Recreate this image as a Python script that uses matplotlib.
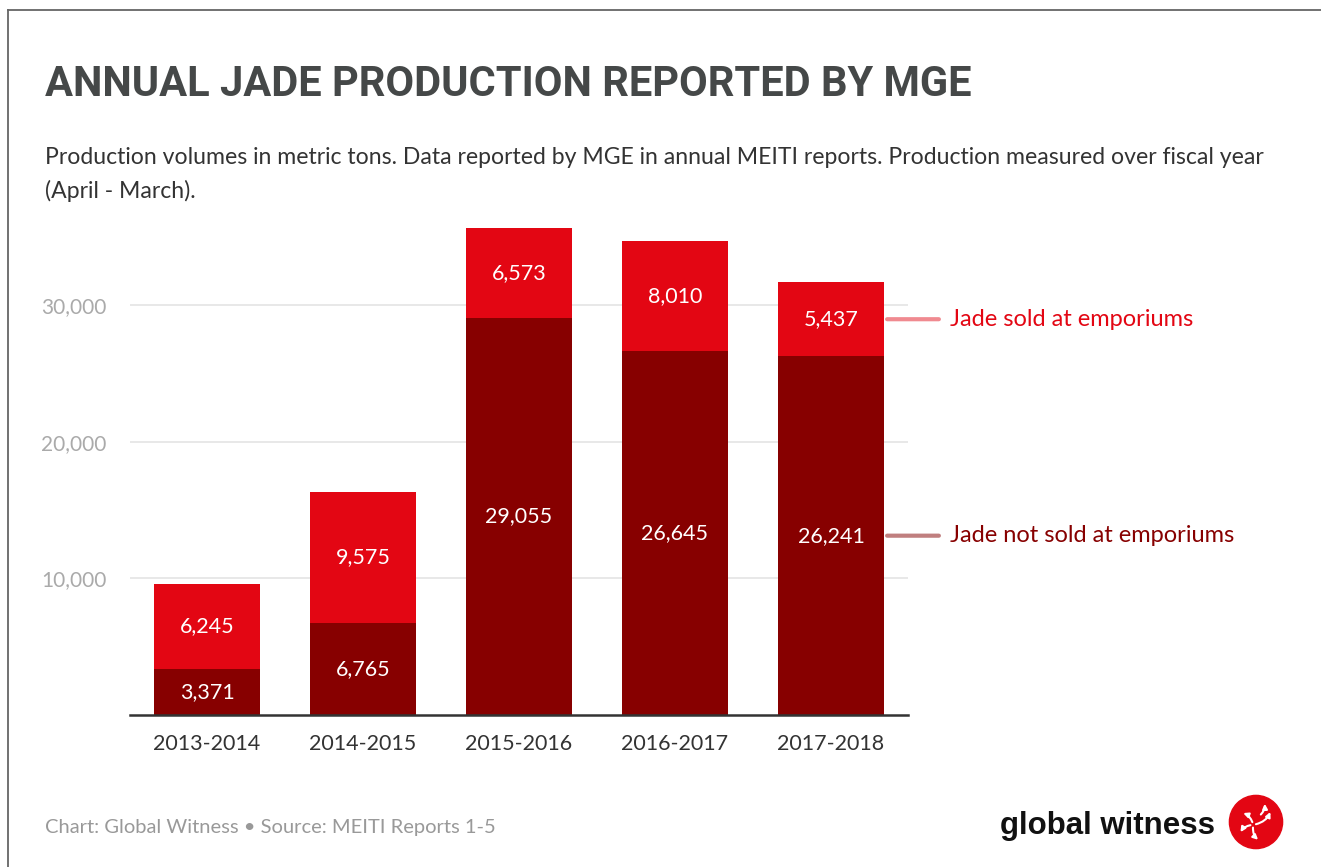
import numpy as np
import matplotlib.pyplot as plt
from matplotlib.lines import Line2D
from matplotlib.patches import Circle, FancyArrowPatch

plt.rcParams['font.family'] = ['Lato', 'DejaVu Sans']

years = ['2013-2014', '2014-2015', '2015-2016', '2016-2017', '2017-2018']
not_sold = [3371, 6765, 29055, 26645, 26241]
sold = [6245, 9575, 6573, 8010, 5437]

dark_red = '#870000'
bright_red = '#e30613'

fig = plt.figure(figsize=(13.21, 8.67), dpi=100)
ax = fig.add_axes([130 / 1321, 152 / 867, 778 / 1321, 492 / 867])

x = np.arange(len(years))
ax.bar(x, not_sold, width=0.68, color=dark_red, zorder=3)
ax.bar(x, sold, width=0.68, bottom=not_sold, color=bright_red, zorder=3)

for i in range(len(years)):
    ax.text(x[i], not_sold[i] / 2, f'{not_sold[i]:,}', ha='center', va='center',
            color='white', fontsize=15.5, zorder=4)
    ax.text(x[i], not_sold[i] + sold[i] / 2, f'{sold[i]:,}', ha='center', va='center',
            color='white', fontsize=15.5, zorder=4)

ax.set_xlim(-0.494, 4.494)
ax.set_ylim(0, 36000)
ax.set_yticks([10000, 20000, 30000])
ax.set_yticklabels(['10,000', '20,000', '30,000'])
ax.set_xticks(x)
ax.set_xticklabels(years)
ax.tick_params(axis='y', length=0, pad=17, labelsize=15, labelcolor='#aaaaaa')
ax.tick_params(axis='x', length=0, pad=14, labelsize=15.5, labelcolor='#333333')
ax.grid(axis='y', color='#e6e6e6', linewidth=1.3, zorder=0)
for s in ['top', 'right', 'left']:
    ax.spines[s].set_visible(False)
ax.spines['bottom'].set_color('#333333')
ax.spines['bottom'].set_linewidth(1.8)
ax.spines['bottom'].set_zorder(5)

# direct labels on the right
last = len(years) - 1
y_sold = not_sold[last] + sold[last] / 2
y_not = not_sold[last] / 2
ax.annotate('Jade sold at emporiums', xy=(4.36, y_sold),
            xytext=(950 / 1321, y_sold), textcoords=('figure fraction', 'data'),
            va='center', ha='left', fontsize=17, color=bright_red,
            arrowprops=dict(arrowstyle='-', color='#f08a90', lw=3,
                            shrinkA=6, shrinkB=0),
            annotation_clip=False)
ax.annotate('Jade not sold at emporiums', xy=(4.36, y_not),
            xytext=(950 / 1321, y_not), textcoords=('figure fraction', 'data'),
            va='center', ha='left', fontsize=17, color=dark_red,
            arrowprops=dict(arrowstyle='-', color='#c07f7f', lw=3,
                            shrinkA=6, shrinkB=0),
            annotation_clip=False)

# titles
fig.text(45 / 1321, 1 - 85 / 867, 'ANNUAL JADE PRODUCTION REPORTED BY MGE',
         fontsize=30, fontweight='bold', color='#454848', va='center',
         family=['Roboto', 'DejaVu Sans'])
fig.text(45 / 1321, 1 - 157 / 867,
         'Production volumes in metric tons. Data reported by MGE in annual MEITI reports. '
         'Production measured over fiscal year', fontsize=16.6, color='#333333', va='center')
fig.text(45 / 1321, 1 - 191 / 867, '(April - March).', fontsize=16.6,
         color='#333333', va='center')

# footer
fig.text(45 / 1321, 1 - 827 / 867, 'Chart: Global Witness \u2022 Source: MEITI Reports 1-5',
         fontsize=14.5, color='#999999', va='center')
fig.text(1215 / 1321, 1 - 826 / 867, 'global witness', fontsize=22.5, fontweight='bold',
         color='#111111', va='center', ha='right', family=['Liberation Sans', 'DejaVu Sans'])

# logo
lax = fig.add_axes([1228 / 1321, 1 - 850 / 867, 56 / 1321, 56 / 867])
lax.set_xlim(-1, 1)
lax.set_ylim(-1, 1)
lax.set_aspect('equal')
lax.axis('off')
lax.add_patch(Circle((0, 0), 0.95, color=bright_red))
for (a, b) in [((-0.1, -0.1), (-0.55, 0.35)), ((-0.1, -0.1), (0.55, 0.45)),
               ((-0.1, -0.1), (0.15, -0.7)), ((-0.1, -0.1), (-0.6, -0.45)),
               ((0.1, 0.2), (0.3, 0.75))]:
    lax.add_patch(FancyArrowPatch(a, b, arrowstyle='-|>', mutation_scale=7,
                                  color='white', lw=1.5,
                                  connectionstyle='arc3,rad=0.3'))

# frame lines
fig.add_artist(Line2D([8 / 1321, 8 / 1321], [0, 1 - 10 / 867], color='#666666', lw=1.3))
fig.add_artist(Line2D([8 / 1321, 1], [1 - 10 / 867, 1 - 10 / 867], color='#666666', lw=1.3))

fig.savefig('out.png', dpi=100, facecolor='white')
